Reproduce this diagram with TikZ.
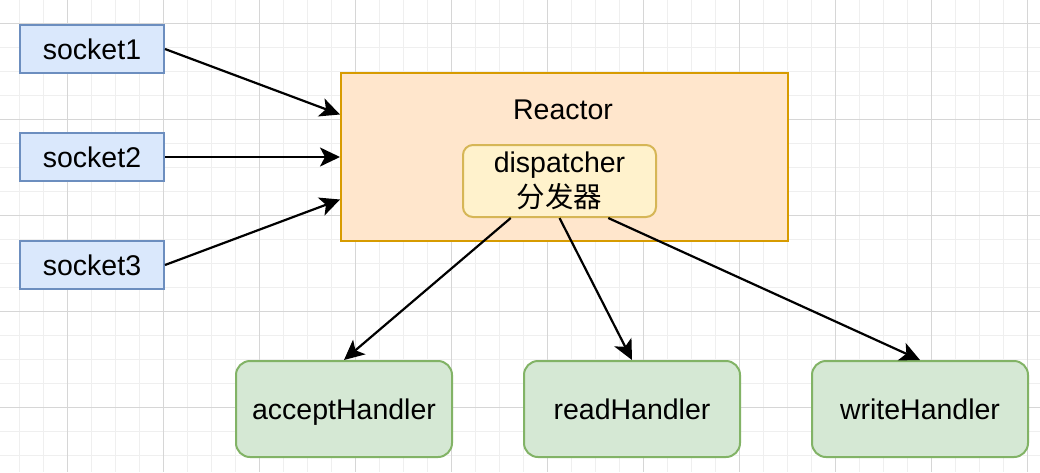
\documentclass[tikz,border=0pt]{standalone}
\usepackage{fontspec}
\setmainfont{Liberation Sans}
\newfontfamily\cjk{Noto Sans CJK SC}
\usetikzlibrary{arrows.meta,calc}
\definecolor{sockfill}{HTML}{DAE8FC}
\definecolor{sockline}{HTML}{6C8EBF}
\definecolor{reacfill}{HTML}{FFE6CC}
\definecolor{reacline}{HTML}{D79B00}
\definecolor{dispfill}{HTML}{FFF2CC}
\definecolor{displine}{HTML}{D6B656}
\definecolor{handfill}{HTML}{D5E8D4}
\definecolor{handline}{HTML}{82B366}
\definecolor{gridminor}{HTML}{EFEFEF}
\definecolor{gridmajor}{HTML}{D6D6D6}
\begin{document}
\begin{tikzpicture}[x=1pt,y=-1pt,
  txt/.style={font=\fontsize{28.5}{35}\selectfont},
  fixtxt/.style={txt,text height=21pt,text depth=0pt},
  minorline/.style={draw=gridminor,line width=1pt},
  majorline/.style={draw=gridmajor,line width=1pt},
  sockbox/.style={fixtxt,draw=sockline,fill=sockfill,line width=2pt,rectangle,minimum width=144pt,minimum height=48pt,inner sep=0pt},
  reacbox/.style={draw=reacline,fill=reacfill,line width=2pt,rectangle,minimum width=447pt,minimum height=168pt,inner sep=0pt},
  dispbox/.style={txt,draw=displine,fill=dispfill,line width=2pt,rectangle,rounded corners=10pt,minimum width=193pt,minimum height=72pt,inner sep=0pt,align=center},
  handbox/.style={fixtxt,draw=handline,fill=handfill,line width=2pt,rectangle,rounded corners=14pt,minimum width=216pt,minimum height=96pt,inner sep=0pt},
  arr/.style={draw=black,line width=2.2pt,-{Stealth[length=20pt,width=19pt,inset=5pt]}}
]
\useasboundingbox (0,0) rectangle (1040,472);
\fill[white] (0,0) rectangle (1040,472);
% grid
\foreach \i in {0,...,42} \draw[minorline] ({19.3+24*\i},0) -- ++(0,472);
\foreach \j in {1,...,19} \draw[minorline] (0,{-0.7+24*\j}) -- ++(1040,0);
\foreach \i in {0,...,10} \draw[majorline] ({67.3+96*\i},0) -- ++(0,472);
\foreach \j in {0,...,4} \draw[majorline] (0,{23.3+96*\j}) -- ++(1040,0);
% nodes
\node[sockbox] (s1) at (92,49) {socket1};
\node[sockbox] (s2) at (92,157) {socket2};
\node[sockbox] (s3) at (92,265) {socket3};
\node[reacbox] (reactor) at (564.5,157) {};
\node[txt] (reaclabel) at (563,110) {Reactor};
\node[dispbox] (disp) at (559.5,181) {dispatcher\\{\cjk 分发器}};
\node[handbox] (accept) at (344,409) {acceptHandler};
\node[handbox] (read) at (632,409) {readHandler};
\node[handbox] (write) at (920,409) {writeHandler};
% connectors
\coordinate (r1) at ($(reactor.north west)!0.25!(reactor.south west)$);
\coordinate (r3) at ($(reactor.north west)!0.75!(reactor.south west)$);
\draw[arr] (s1.east) -- (r1);
\draw[arr] (s2.east) -- (reactor.west);
\draw[arr] (s3.east) -- (r3);
\coordinate (d1) at ($(disp.south west)!0.25!(disp.south east)$);
\coordinate (d3) at ($(disp.south west)!0.75!(disp.south east)$);
\draw[arr] (d1) -- (accept.north);
\draw[arr] (disp.south) -- (read.north);
\draw[arr] (d3) -- (write.north);
\end{tikzpicture}
\end{document}
